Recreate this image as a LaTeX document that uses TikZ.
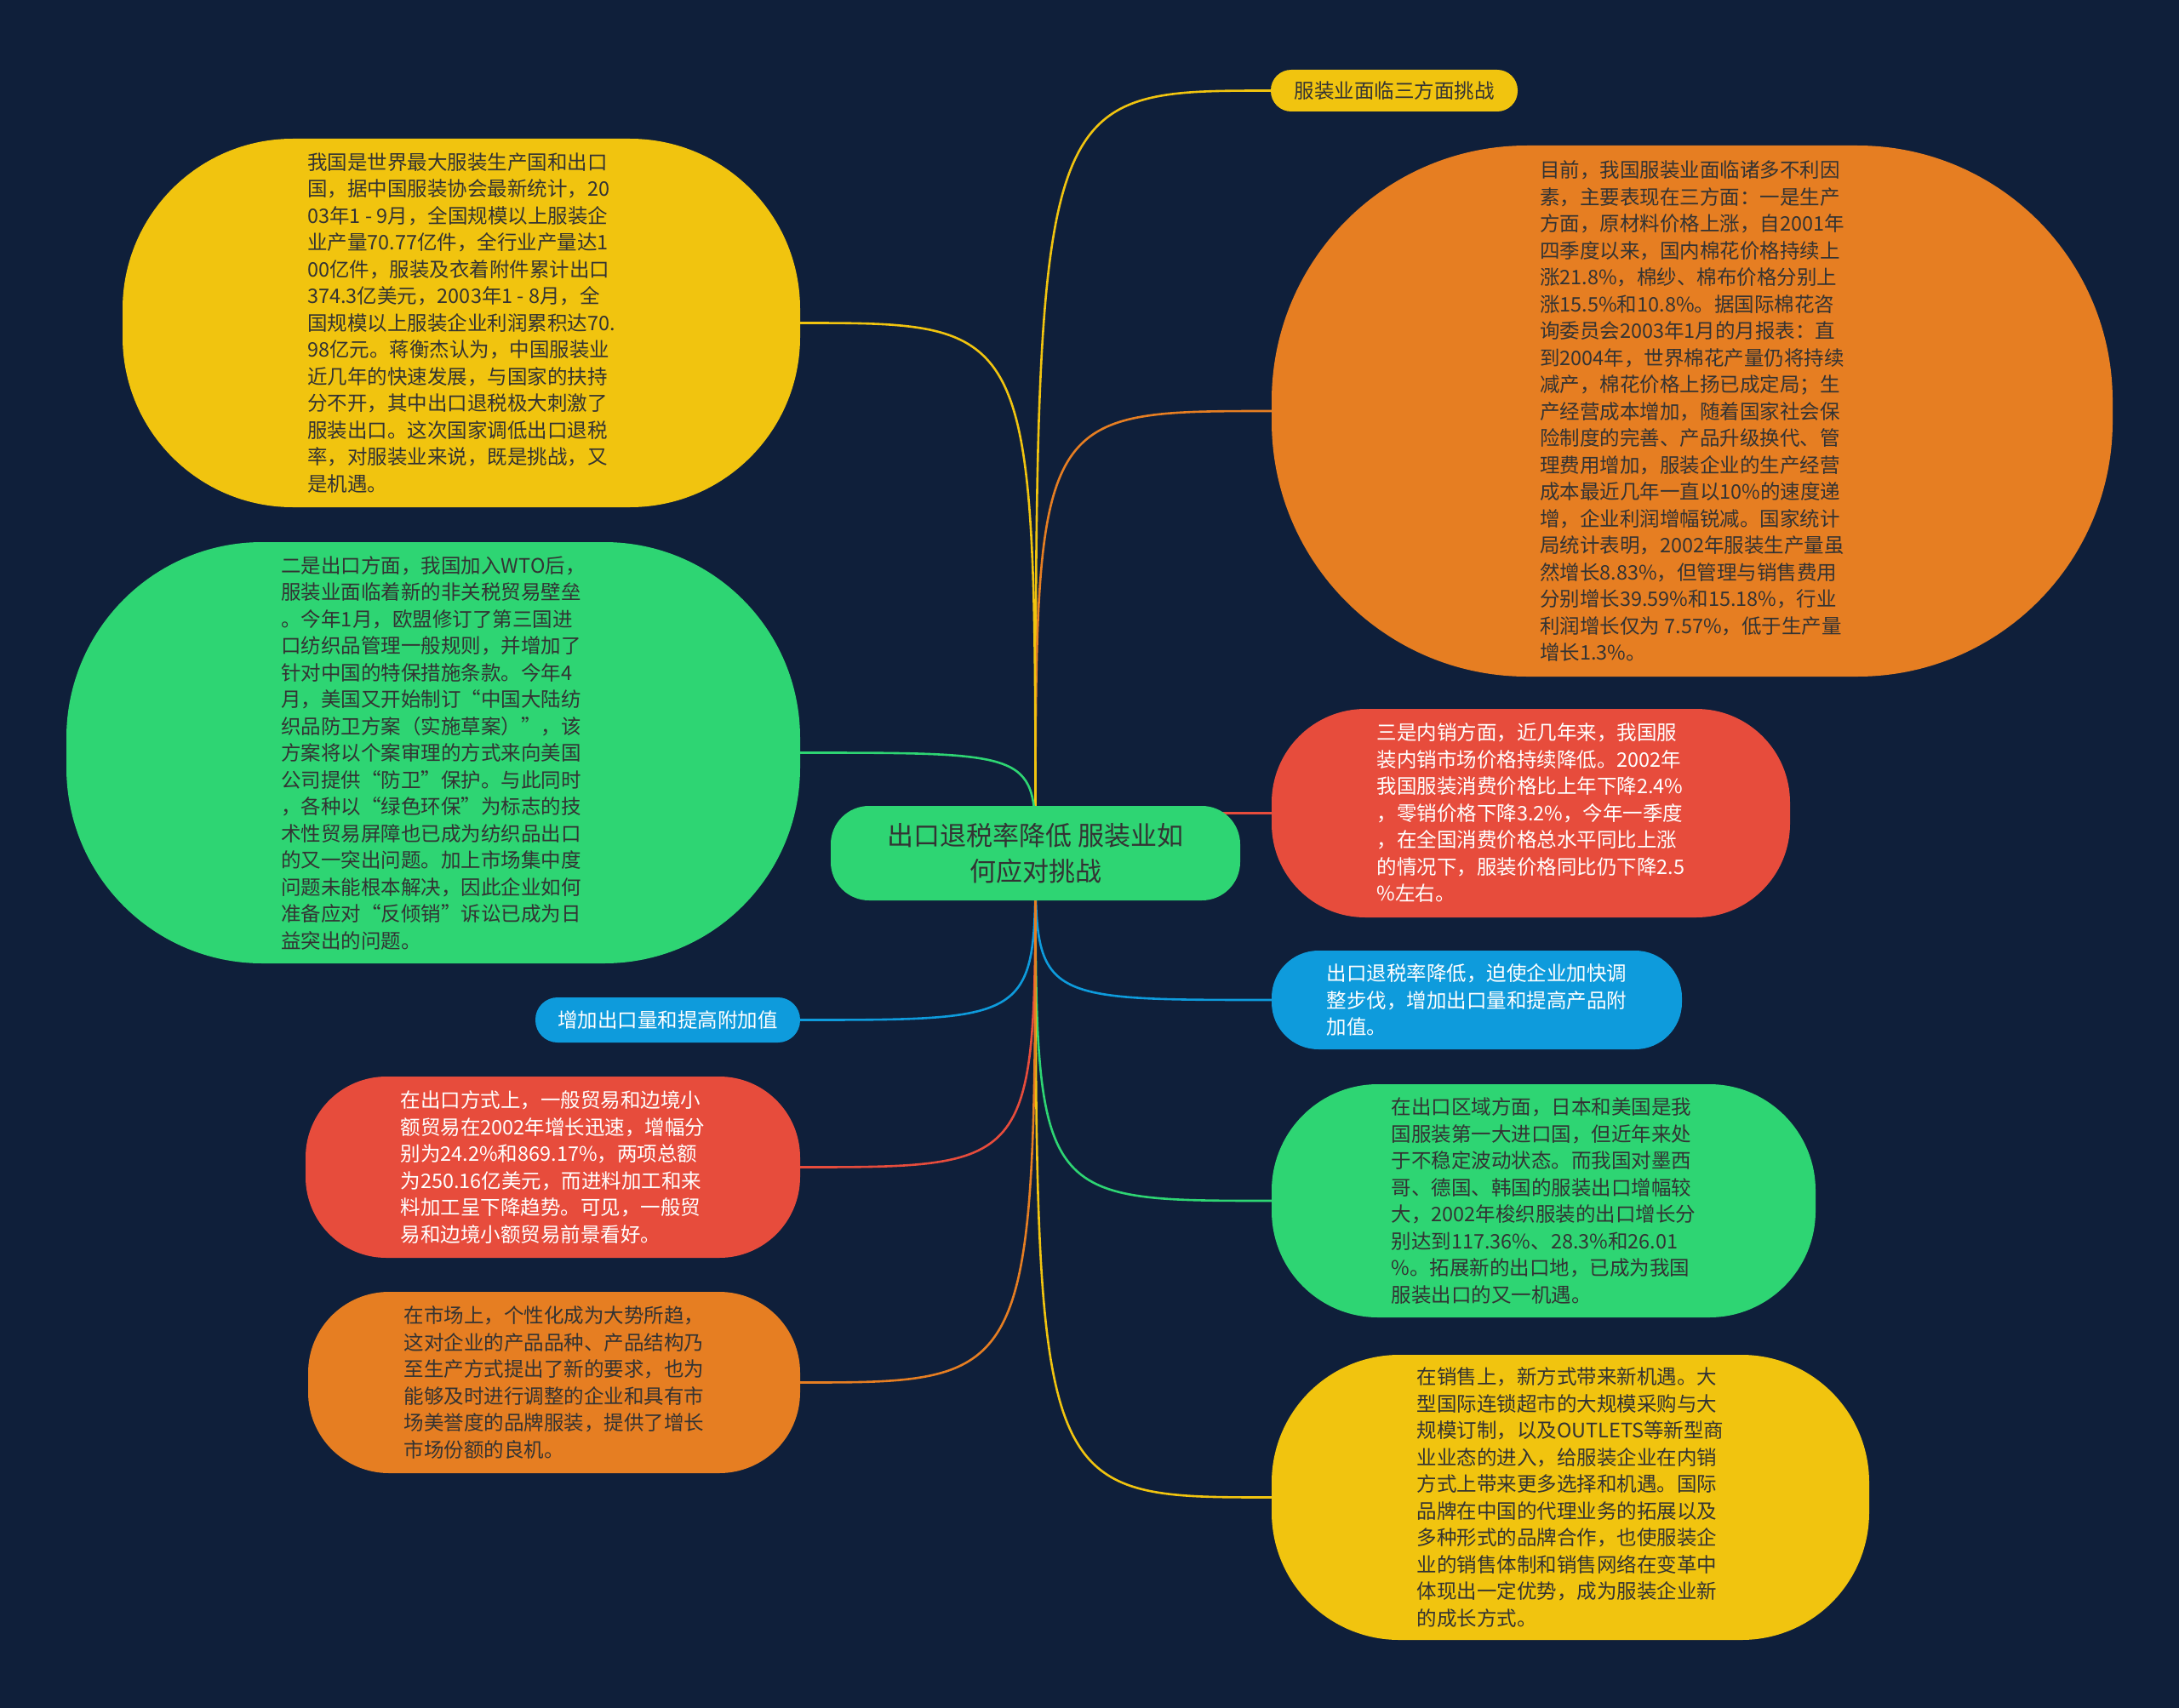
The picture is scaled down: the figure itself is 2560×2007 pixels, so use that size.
\documentclass[tikz,border=0pt]{standalone}
\usepackage{fontspec}
\newfontfamily\cjk{Noto Sans CJK SC}
\usetikzlibrary{backgrounds}
\definecolor{navy}{HTML}{0F1F3A}
\definecolor{ylw}{HTML}{F1C40F}
\definecolor{org}{HTML}{E67E22}
\definecolor{grn}{HTML}{2ED573}
\definecolor{redd}{HTML}{E74C3C}
\definecolor{blu}{HTML}{0E9BDC}
\definecolor{ink}{HTML}{333333}

\begin{document}
\begin{tikzpicture}[x=1pt,y=-1pt,font=\cjk\fontsize{23.5}{31.5}\selectfont,
  bubble/.style={inner sep=0pt,align=left,text=ink},
  link/.style={line width=2.6pt}]
\useasboundingbox (0,0) rectangle (2560,2007);

% central topic
\node[bubble,fill=grn,rounded corners=45pt,minimum width=481pt,minimum height=111pt,align=center,
  font=\cjk\fontsize{31}{42}\selectfont] (ctr) at (1216.5,1002.5) {出口退税率降低 服装业如\\何应对挑战};

% right side
\node[bubble,fill=ylw,rounded corners=24pt,minimum width=290pt,minimum height=49pt] (lblTR) at (1638,106.5) {服装业面临三方面挑战};
\node[bubble,fill=org,rounded corners=300pt,minimum width=988pt,minimum height=624pt] (orgR) at (1988,483) {目前，我国服装业面临诸多不利因\\素，主要表现在三方面：一是生产\\方面，原材料价格上涨，自2001年\\四季度以来，国内棉花价格持续上\\涨21.8\%，棉纱、棉布价格分别上\\涨15.5\%和10.8\%。据国际棉花咨\\询委员会2003年1月的月报表：直\\到2004年，世界棉花产量仍将持续\\减产，棉花价格上扬已成定局；生\\产经营成本增加，随着国家社会保\\险制度的完善、产品升级换代、管\\理费用增加，服装企业的生产经营\\成本最近几年一直以10\%的速度递\\增，企业利润增幅锐减。国家统计\\局统计表明，2002年服装生产量虽\\然增长8.83\%，但管理与销售费用\\分别增长39.59\%和15.18\%，行业\\利润增长仅为 7.57\%，低于生产量\\增长1.3\%。};
\node[bubble,fill=redd,text=white,rounded corners=110pt,minimum width=609pt,minimum height=245pt] (redR) at (1798.5,955.5) {三是内销方面，近几年来，我国服\\装内销市场价格持续降低。2002年\\我国服装消费价格比上年下降2.4\%\\，零销价格下降3.2\%，今年一季度\\，在全国消费价格总水平同比上涨\\的情况下，服装价格同比仍下降2.5\\\%左右。};
\node[bubble,fill=blu,text=white,rounded corners=55pt,minimum width=482pt,minimum height=116pt] (bluR) at (1735,1175) {出口退税率降低，迫使企业加快调\\整步伐，增加出口量和提高产品附\\加值。};
\node[bubble,fill=grn,rounded corners=125pt,minimum width=639pt,minimum height=274pt] (grnR) at (1813.5,1411) {在出口区域方面，日本和美国是我\\国服装第一大进口国，但近年来处\\于不稳定波动状态。而我国对墨西\\哥、德国、韩国的服装出口增幅较\\大，2002年梭织服装的出口增长分\\别达到117.36\%、28.3\%和26.01\\\%。拓展新的出口地，已成为我国\\服装出口的又一机遇。};
\node[bubble,fill=ylw,rounded corners=150pt,minimum width=702pt,minimum height=335pt] (ylwR) at (1845,1759.5) {在销售上，新方式带来新机遇。大\\型国际连锁超市的大规模采购与大\\规模订制，以及OUTLETS等新型商\\业业态的进入，给服装企业在内销\\方式上带来更多选择和机遇。国际\\品牌在中国的代理业务的拓展以及\\多种形式的品牌合作，也使服装企\\业的销售体制和销售网络在变革中\\体现出一定优势，成为服装企业新\\的成长方式。};

% left side
\node[bubble,fill=ylw,rounded corners=200pt,minimum width=796pt,minimum height=433pt] (ylwL) at (542,379.5) {我国是世界最大服装生产国和出口\\国，据中国服装协会最新统计，20\\03年1 - 9月，全国规模以上服装企\\业产量70.77亿件，全行业产量达1\\00亿件，服装及衣着附件累计出口\\374.3亿美元，2003年1 - 8月，全\\国规模以上服装企业利润累积达70.\\98亿元。蒋衡杰认为，中国服装业\\近几年的快速发展，与国家的扶持\\分不开，其中出口退税极大刺激了\\服装出口。这次国家调低出口退税\\率，对服装业来说，既是挑战，又\\是机遇。};
\node[bubble,fill=grn,rounded corners=230pt,minimum width=862pt,minimum height=495pt] (grnL) at (509,884.5) {二是出口方面，我国加入WTO后，\\服装业面临着新的非关税贸易壁垒\\。今年1月，欧盟修订了第三国进\\口纺织品管理一般规则，并增加了\\针对中国的特保措施条款。今年4\\月，美国又开始制订“中国大陆纺\\织品防卫方案（实施草案）”，该\\方案将以个案审理的方式来向美国\\公司提供“防卫”保护。与此同时\\，各种以“绿色环保”为标志的技\\术性贸易屏障也已成为纺织品出口\\的又一突出问题。加上市场集中度\\问题未能根本解决，因此企业如何\\准备应对“反倾销”诉讼已成为日\\益突出的问题。};
\node[bubble,fill=blu,text=white,rounded corners=26pt,minimum width=311pt,minimum height=53pt] (bluL) at (784.5,1198.5) {增加出口量和提高附加值};
\node[bubble,fill=redd,text=white,rounded corners=95pt,minimum width=581pt,minimum height=213pt] (redL) at (649.5,1371.5) {在出口方式上，一般贸易和边境小\\额贸易在2002年增长迅速，增幅分\\别为24.2\%和869.17\%，两项总额\\为250.16亿美元，而进料加工和来\\料加工呈下降趋势。可见，一般贸\\易和边境小额贸易前景看好。};
\node[bubble,fill=org,rounded corners=95pt,minimum width=578pt,minimum height=213pt] (orgL) at (651,1624.5) {在市场上，个性化成为大势所趋，\\这对企业的产品品种、产品结构乃\\至生产方式提出了新的要求，也为\\能够及时进行调整的企业和具有市\\场美誉度的品牌服装，提供了增长\\市场份额的良机。};

% connectors behind the bubbles
\begin{pgfonlayer}{background}
\fill[navy] (0,0) rectangle (2560,2007);
\foreach \n/\c in {lblTR/ylw,orgR/org,redR/redd,bluR/blu,grnR/grn,ylwR/ylw}
  \draw[link,\c] (ctr.center) .. controls (ctr.center |- \n.west) .. (\n.west);
\foreach \n/\c in {ylwL/ylw,grnL/grn,bluL/blu,redL/redd,orgL/org}
  \draw[link,\c] (ctr.center) .. controls (ctr.center |- \n.east) .. (\n.east);
\end{pgfonlayer}
\end{tikzpicture}
\end{document}
